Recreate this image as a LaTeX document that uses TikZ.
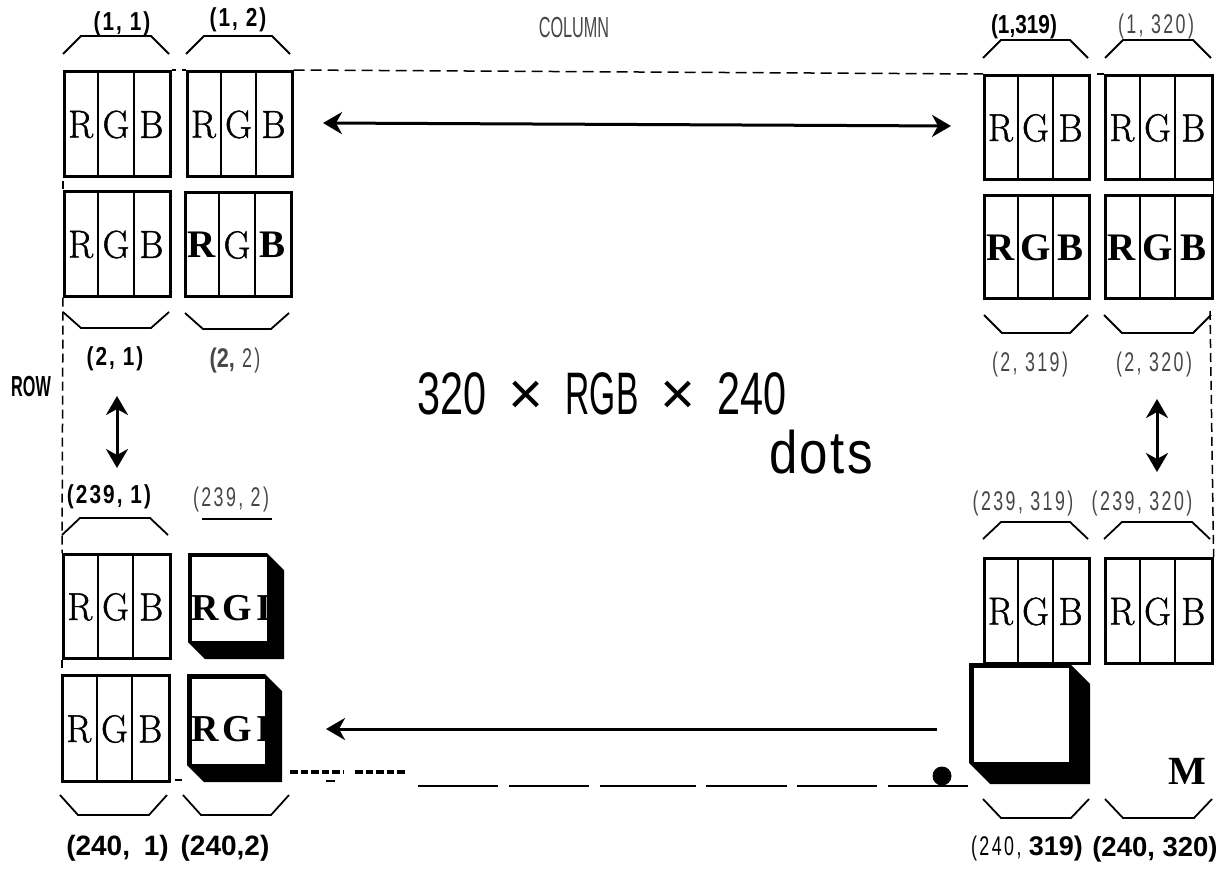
\documentclass[tikz,border=0pt]{standalone}
\usepackage{fontspec}
\usetikzlibrary{arrows.meta}
\newfontfamily\condf[FakeStretch=0.66,LetterSpace=9]{Liberation Sans}
\newfontfamily\condbs[FakeStretch=0.8,LetterSpace=8]{Liberation Sans Bold}
\newfontfamily\condb[FakeStretch=0.8]{Liberation Sans Bold}
\newfontfamily\capb{Liberation Sans Bold}
\newfontfamily\narrowf[FakeStretch=0.56]{Liberation Sans}
\newfontfamily\narrowb[FakeStretch=0.56]{Liberation Sans Bold}
\newfontfamily\bigf[FakeStretch=0.69]{Liberation Sans}
\newfontfamily\timesf{Liberation Sans}
\newfontfamily\dotsf[FakeStretch=0.85,LetterSpace=4]{Liberation Sans}
\newfontfamily\rgbf[FakeBold=1.2,FakeStretch=0.94]{Latin Modern Roman}
\newfontfamily\rgbb{Liberation Serif Bold}
\newcommand{\bb}[1]{{\rgbb #1}}
\newcommand{\boxcell}[8]{%
  \node[cellframe,anchor=north west,minimum width=#4pt,minimum height=#5pt] (#1) at (#2,#3) {};
  \draw[divline] ({#2+#4/3},#3) -- ({#2+#4/3},{#3+#5});
  \draw[divline] ({#2+2*#4/3},#3) -- ({#2+2*#4/3},{#3+#5});
  \node[letter] (#1r) at ({#2+#4/6},{#3+#5/2+2}) {#6};
  \node[letter] (#1g) at ({#2+#4/2},{#3+#5/2+2}) {#7};
  \node[letter] (#1b) at ({#2+5*#4/6},{#3+#5/2+2}) {#8};
}
\newcommand{\capup}[4]{\draw[capline] (#1,#4) -- ({#1+18},#3) -- ({#2-18},#3) -- (#2,#4);}
% x y w h chamfer thickness
\newcommand{\blockcell}[6]{%
  \fill[black] (#1,#2) -- ({#1+#3-#5},#2) -- ({#1+#3},{#2+#5}) -- ({#1+#3},{#2+#4}) -- ({#1+#5},{#2+#4}) -- (#1,{#2+#4-#5}) -- cycle;
  \fill[white] ({#1+#6},{#2+#6}) rectangle ({#1+#3-#5},{#2+#4-#5-1});
}
\tikzset{
  cellframe/.style={draw,line width=2.6pt,inner sep=0pt},
  divline/.style={line width=2.2pt},
  letter/.style={inner sep=0pt,font=\fontsize{39}{39}\selectfont\rgbf},
  capline/.style={line width=1.8pt},
  boldletter/.style={inner sep=0pt,font=\fontsize{38}{38}\selectfont\rgbb},
  dashtop/.style={line width=1.5pt,dash pattern=on 11pt off 6pt},
  dashside/.style={line width=1.5pt,dash pattern=on 9pt off 5pt},
  stubline/.style={line width=1.5pt},
  arrowline/.style={line width=3pt,{Stealth[length=19pt,width=22pt,inset=6pt]}-{Stealth[length=19pt,width=22pt,inset=6pt]}},
  thinlab/.style={inner sep=0pt,text=black!72,font=\fontsize{27}{27}\selectfont\condf},
  boldlab/.style={inner sep=0pt,font=\fontsize{26}{26}\selectfont\condbs},
  heavylab/.style={inner sep=0pt,font=\fontsize{28}{28}\selectfont\capb},
  biglab/.style={inner sep=0pt,font=\fontsize{60}{60}\selectfont\bigf},
}
\begin{document}
\begin{tikzpicture}[x=1pt,y=-1pt]
\useasboundingbox (0,0) rectangle (1230,869);
% top-left group
\boxcell{aa}{63}{70}{106}{105}{R}{G}{B}
\boxcell{ab}{186}{70}{105}{105}{R}{G}{B}
\boxcell{ba}{63}{190}{106}{105}{R}{G}{B}
\boxcell{bb}{184}{191}{106}{104}{\bb{R}}{G}{\bb{B}}
% top-right group
\boxcell{ac}{983}{74}{105}{104}{R}{G}{B}
\boxcell{ad}{1104}{74}{107}{104}{R}{G}{B}
\boxcell{bc}{983}{194}{105}{103}{\bb{R}}{\bb{G}}{\bb{B}}
\boxcell{bd}{1104}{194}{107}{103}{\bb{R}}{\bb{G}}{\bb{B}}
% bottom-left group
\boxcell{ca}{62}{553}{107}{104}{R}{G}{B}
\boxcell{da}{61}{674}{107}{106}{R}{G}{B}
% bottom-right group
\boxcell{cc}{983}{557}{105}{105}{R}{G}{B}
\boxcell{cd}{1104}{557}{107}{105}{R}{G}{B}
% solid blocks
\blockcell{188}{553}{96}{106}{17}{4}
\node[boldletter] (cbr) at (205,608) {R};
\node[boldletter] (cbg) at (237,608) {G};
\node[boldletter] (cbi) at (264,608) {I};
\blockcell{187}{674}{95}{108}{17}{5}
\node[boldletter] (dbr) at (205,729) {R};
\node[boldletter] (dbg) at (237,729) {G};
\node[boldletter] (dbi) at (264,729) {I};
\blockcell{969}{663}{121}{121}{21}{5}
\node[inner sep=0pt,font=\fontsize{40}{40}\selectfont\rgbb] (mm) at (1187,771) {M};
% caps above
\capup{63}{169}{36}{54}
\capup{186}{290}{36}{54}
\capup{983}{1088}{40}{58}
\capup{1105}{1211}{40}{58}
\capup{62}{168}{518}{535}
\capup{983}{1088}{522}{539}
\capup{1104}{1210}{522}{539}
% caps below
\capup{63}{169}{328}{312}
\capup{185}{289}{329}{313}
\capup{984}{1088}{333}{315}
\capup{1104}{1211}{333}{315}
\capup{60}{167}{815}{795}
\capup{183}{289}{815}{795}
\capup{983}{1089}{818}{799}
\capup{1105}{1212}{818}{799}
\draw[line width=2.2pt] (202,519) -- (272,519);
% dashed frame
\coordinate (rdtop) at (1210,311);
\draw[dashtop] (ab.north east) -- (ac.north west);
\draw[dashside] (ba.south west) -- (ca.north west);
\draw[dashside] (rdtop) -- (cd.north east);
\draw[stubline] (aa.south west) ++(0,3) -- ++(0,8);
\draw[stubline] (ca.south west) -- ++(0,8);
\draw[stubline] (ad.south east) -- ++(0,14);
\draw[stubline] (aa.north east) -- ++(4,0);
\draw[stubline] (ab.north west) -- ++(-4,0);
\draw[stubline] (ad.north west) -- ++(-7,0);
% arrows
\coordinate (h1) at (323,123);
\coordinate (h2) at (951,126);
\draw[arrowline] (h1) -- (h2);
\coordinate (v1) at (117,396);
\coordinate (v2) at (117,468);
\draw[arrowline] (v1) -- (v2);
\coordinate (v3) at (1157,399);
\coordinate (v4) at (1157,472);
\draw[arrowline] (v3) -- (v4);
\coordinate (b1) at (937,729);
\coordinate (b2) at (326,729);
\draw[line width=3pt,-{Stealth[length=19pt,width=22pt,inset=6pt]}] (b1) -- (b2);
% bottom dotted run
\draw[line width=4.4pt,dash pattern=on 7.5pt off 3pt] (290,772) -- (343,772);
\draw[line width=4.4pt,dash pattern=on 7.5pt off 3pt] (355,772) -- (406,772);
\draw[line width=2pt] (326,781) -- (335,781);
\draw[line width=2pt] (175,780) -- (182,780);
\foreach \a/\b in {418/498,509/589,600/696,706/787,797/877,888/968}
  \draw[line width=2pt] (\a,786) -- (\b,786);
\fill (942,776) circle (9.5);
% labels
\node[boldlab] (l11) at (122,24) {(1, 1)};
\node[boldlab] (l12) at (238,20) {(1, 2)};
\node[inner sep=0pt,font=\fontsize{26}{26}\selectfont\condb] (l1319) at (1024,27) {(1,319)};
\node[thinlab] (l1320) at (1156,27) {(1, 320)};
\node[inner sep=0pt,text=black!72,font=\fontsize{29}{29}\selectfont\narrowf] (lcol) at (574,28) {COLUMN};
\node[boldlab] (l21) at (115,359) {(2, 1)};
\node[thinlab] (l22) at (235,361) {{\condb(2,} 2)};
\node[thinlab] (l2319) at (1030,365) {(2, 319)};
\node[thinlab] (l2320) at (1154,365) {(2, 320)};
\node[inner sep=0pt,font=\fontsize{29}{29}\selectfont\narrowb] (lrow) at (31,387) {ROW};
\node[boldlab] (l2391) at (109,497) {(239, 1)};
\node[thinlab] (l2392) at (231,500) {(239, 2)};
\node[thinlab] (l239319) at (1023,504) {(239, 319)};
\node[thinlab] (l239320) at (1142,504) {(239, 320)};
\node[heavylab] (l2401) at (117.5,848) {(240,\hspace{6pt} 1)};
\node[heavylab] (l2402) at (225,848) {(240,2)};
\node[thinlab,text=black] (l240319) at (1027,849) {(240, {\capb 319)}};
\node[heavylab,font=\fontsize{27.5}{27.5}\selectfont\capb] (l240320) at (1155,849) {(240, 320)};
\node[biglab] (big) at (602,394) {320\hspace{22pt}{\timesf ×}\hspace{22pt}{\narrowf RGB}\hspace{22pt}{\timesf ×}\hspace{22pt}240};
\node[inner sep=0pt,font=\fontsize{60}{60}\selectfont\dotsf] (dots) at (821,452) {dots};
\end{tikzpicture}
\end{document}
